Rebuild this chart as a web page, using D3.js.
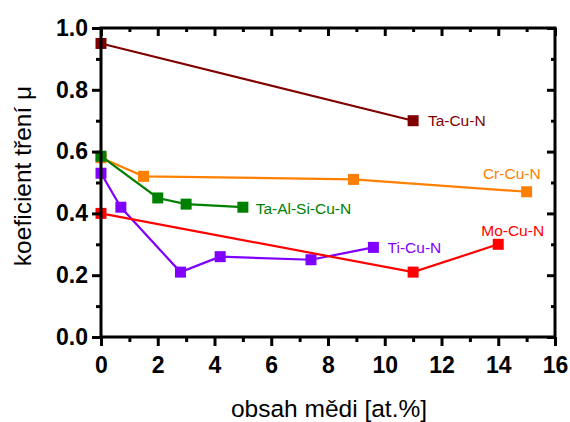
<!DOCTYPE html>
<html><head><meta charset="utf-8">
<script src="https://cdn.jsdelivr.net/npm/d3@7"></script>
<style>body{margin:0;background:#fff}svg{display:block}</style>
</head><body>
<svg id="c" width="570" height="422"></svg>
<script>
const xTicks = [0,2,4,6,8,10,12,14,16];
const yTicks = [0.0,0.2,0.4,0.6,0.8,1.0];
const seriesNames = ["Ta-Cu-N","Ti-Cu-N","Mo-Cu-N","Cr-Cu-N","Ta-Al-Si-Cu-N"];
const seriesColors = ["#800000","#8000ff","#ff0000","#ff8000","#008000"];
const taCuN_x = [0, 11];
const taCuN_y = [0.95, 0.70];
const tiCuN_x = [0, 0.7, 2.8, 4.2, 7.4, 9.6];
const tiCuN_y = [0.53, 0.42, 0.21, 0.26, 0.25, 0.29];
const moCuN_x = [0, 11, 14];
const moCuN_y = [0.40, 0.21, 0.30];
const crCuN_x = [0, 1.5, 8.9, 15];
const crCuN_y = [0.58, 0.52, 0.51, 0.47];
const taAlSiCuN_x = [0, 2, 3, 5];
const taAlSiCuN_y = [0.585, 0.45, 0.43, 0.42];
const xs = [taCuN_x, tiCuN_x, moCuN_x, crCuN_x, taAlSiCuN_x];
const ys = [taCuN_y, tiCuN_y, moCuN_y, crCuN_y, taAlSiCuN_y];
// label anchor (data coords) for each series
const labelPos = [[11.52, 0.702], [10.1, 0.291], [13.4, 0.343], [13.46, 0.53], [5.45, 0.417]];

const svg = d3.select("#c");
const L = 101, R = 555, T = 28, B = 337;
const x = d3.scaleLinear().domain([0,16]).range([L,R]);
const y = d3.scaleLinear().domain([0,1]).range([B,T]);

const minorX = d3.range(0,17,1);
const minorY = d3.range(0,11,1).map(d=>d/10);
const font = "Liberation Sans, Arial, sans-serif";

// series
const line = d3.line().x(d=>x(d[0])).y(d=>y(d[1]));
xs.forEach((xa,i)=>{
  const pts = xa.map((v,j)=>[v, ys[i][j]]);
  const g = svg.append("g");
  g.append("path").attr("d", line(pts)).attr("fill","none")
    .attr("stroke", seriesColors[i]).attr("stroke-width", 2.2);
  g.selectAll("rect").data(pts).join("rect")
    .attr("x", d=>x(d[0])-5.5).attr("y", d=>y(d[1])-5.5)
    .attr("width", 11).attr("height", 11).attr("fill", seriesColors[i]);
});

// series labels
seriesNames.forEach((n,i)=>{
  svg.append("text").attr("x", x(labelPos[i][0])).attr("y", y(labelPos[i][1])).attr("dy","0.35em")
    .attr("text-anchor", "start")
    .attr("font-family",font).attr("font-size",15.5)
    .attr("fill", seriesColors[i]).text(n);
});

// axes
const axB = svg.append("g").attr("transform",`translate(0,${B})`)
  .call(d3.axisBottom(x).tickValues(xTicks).tickSize(9).tickPadding(6).tickFormat(d3.format("d")));
const axBm = svg.append("g").attr("transform",`translate(0,${B})`)
  .call(d3.axisBottom(x).tickValues(minorX.filter(d=>d%2)).tickSize(5).tickFormat(""));
const axT = svg.append("g").attr("transform",`translate(0,${T})`)
  .call(d3.axisBottom(x).tickValues(xTicks).tickSize(8).tickFormat(""));
const axTm = svg.append("g").attr("transform",`translate(0,${T})`)
  .call(d3.axisBottom(x).tickValues(minorX.filter(d=>d%2)).tickSize(4).tickFormat(""));
const axL = svg.append("g").attr("transform",`translate(${L},0)`)
  .call(d3.axisLeft(y).tickValues(yTicks).tickSize(9).tickPadding(4).tickFormat(d3.format(".1f")));
const axLm = svg.append("g").attr("transform",`translate(${L},0)`)
  .call(d3.axisLeft(y).tickValues(minorY.filter((d,i)=>i%2)).tickSize(5).tickFormat(""));
const axR = svg.append("g").attr("transform",`translate(${R},0)`)
  .call(d3.axisLeft(y).tickValues(yTicks).tickSize(8).tickFormat(""));
const axRm = svg.append("g").attr("transform",`translate(${R},0)`)
  .call(d3.axisLeft(y).tickValues(minorY.filter((d,i)=>i%2)).tickSize(4).tickFormat(""));
[axB,axBm,axT,axTm,axL,axLm,axR,axRm].forEach(a=>{
  a.select(".domain").remove();
  a.selectAll(".tick line").attr("stroke","#000").attr("stroke-width",3);
  a.selectAll("text").attr("font-family",font).attr("font-size",23)
    .attr("font-weight","bold").attr("fill","#000");
});
axB.selectAll("text").attr("dy","0.9em");
// frame
svg.append("rect").attr("x",L).attr("y",T).attr("width",R-L).attr("height",B-T)
  .attr("fill","none").attr("stroke","#000").attr("stroke-width",3);

// titles
svg.append("text").attr("x",329).attr("y",417).attr("text-anchor","middle")
  .attr("font-family",font).attr("font-size",24.5).attr("fill","#000").text("obsah mědi [at.%]");
svg.append("text").attr("transform",`translate(31,176) rotate(-90)`).attr("text-anchor","middle")
  .attr("font-family",font).attr("font-size",24.5).attr("fill","#000").text("koeficient tření μ");
</script>
</body></html>
